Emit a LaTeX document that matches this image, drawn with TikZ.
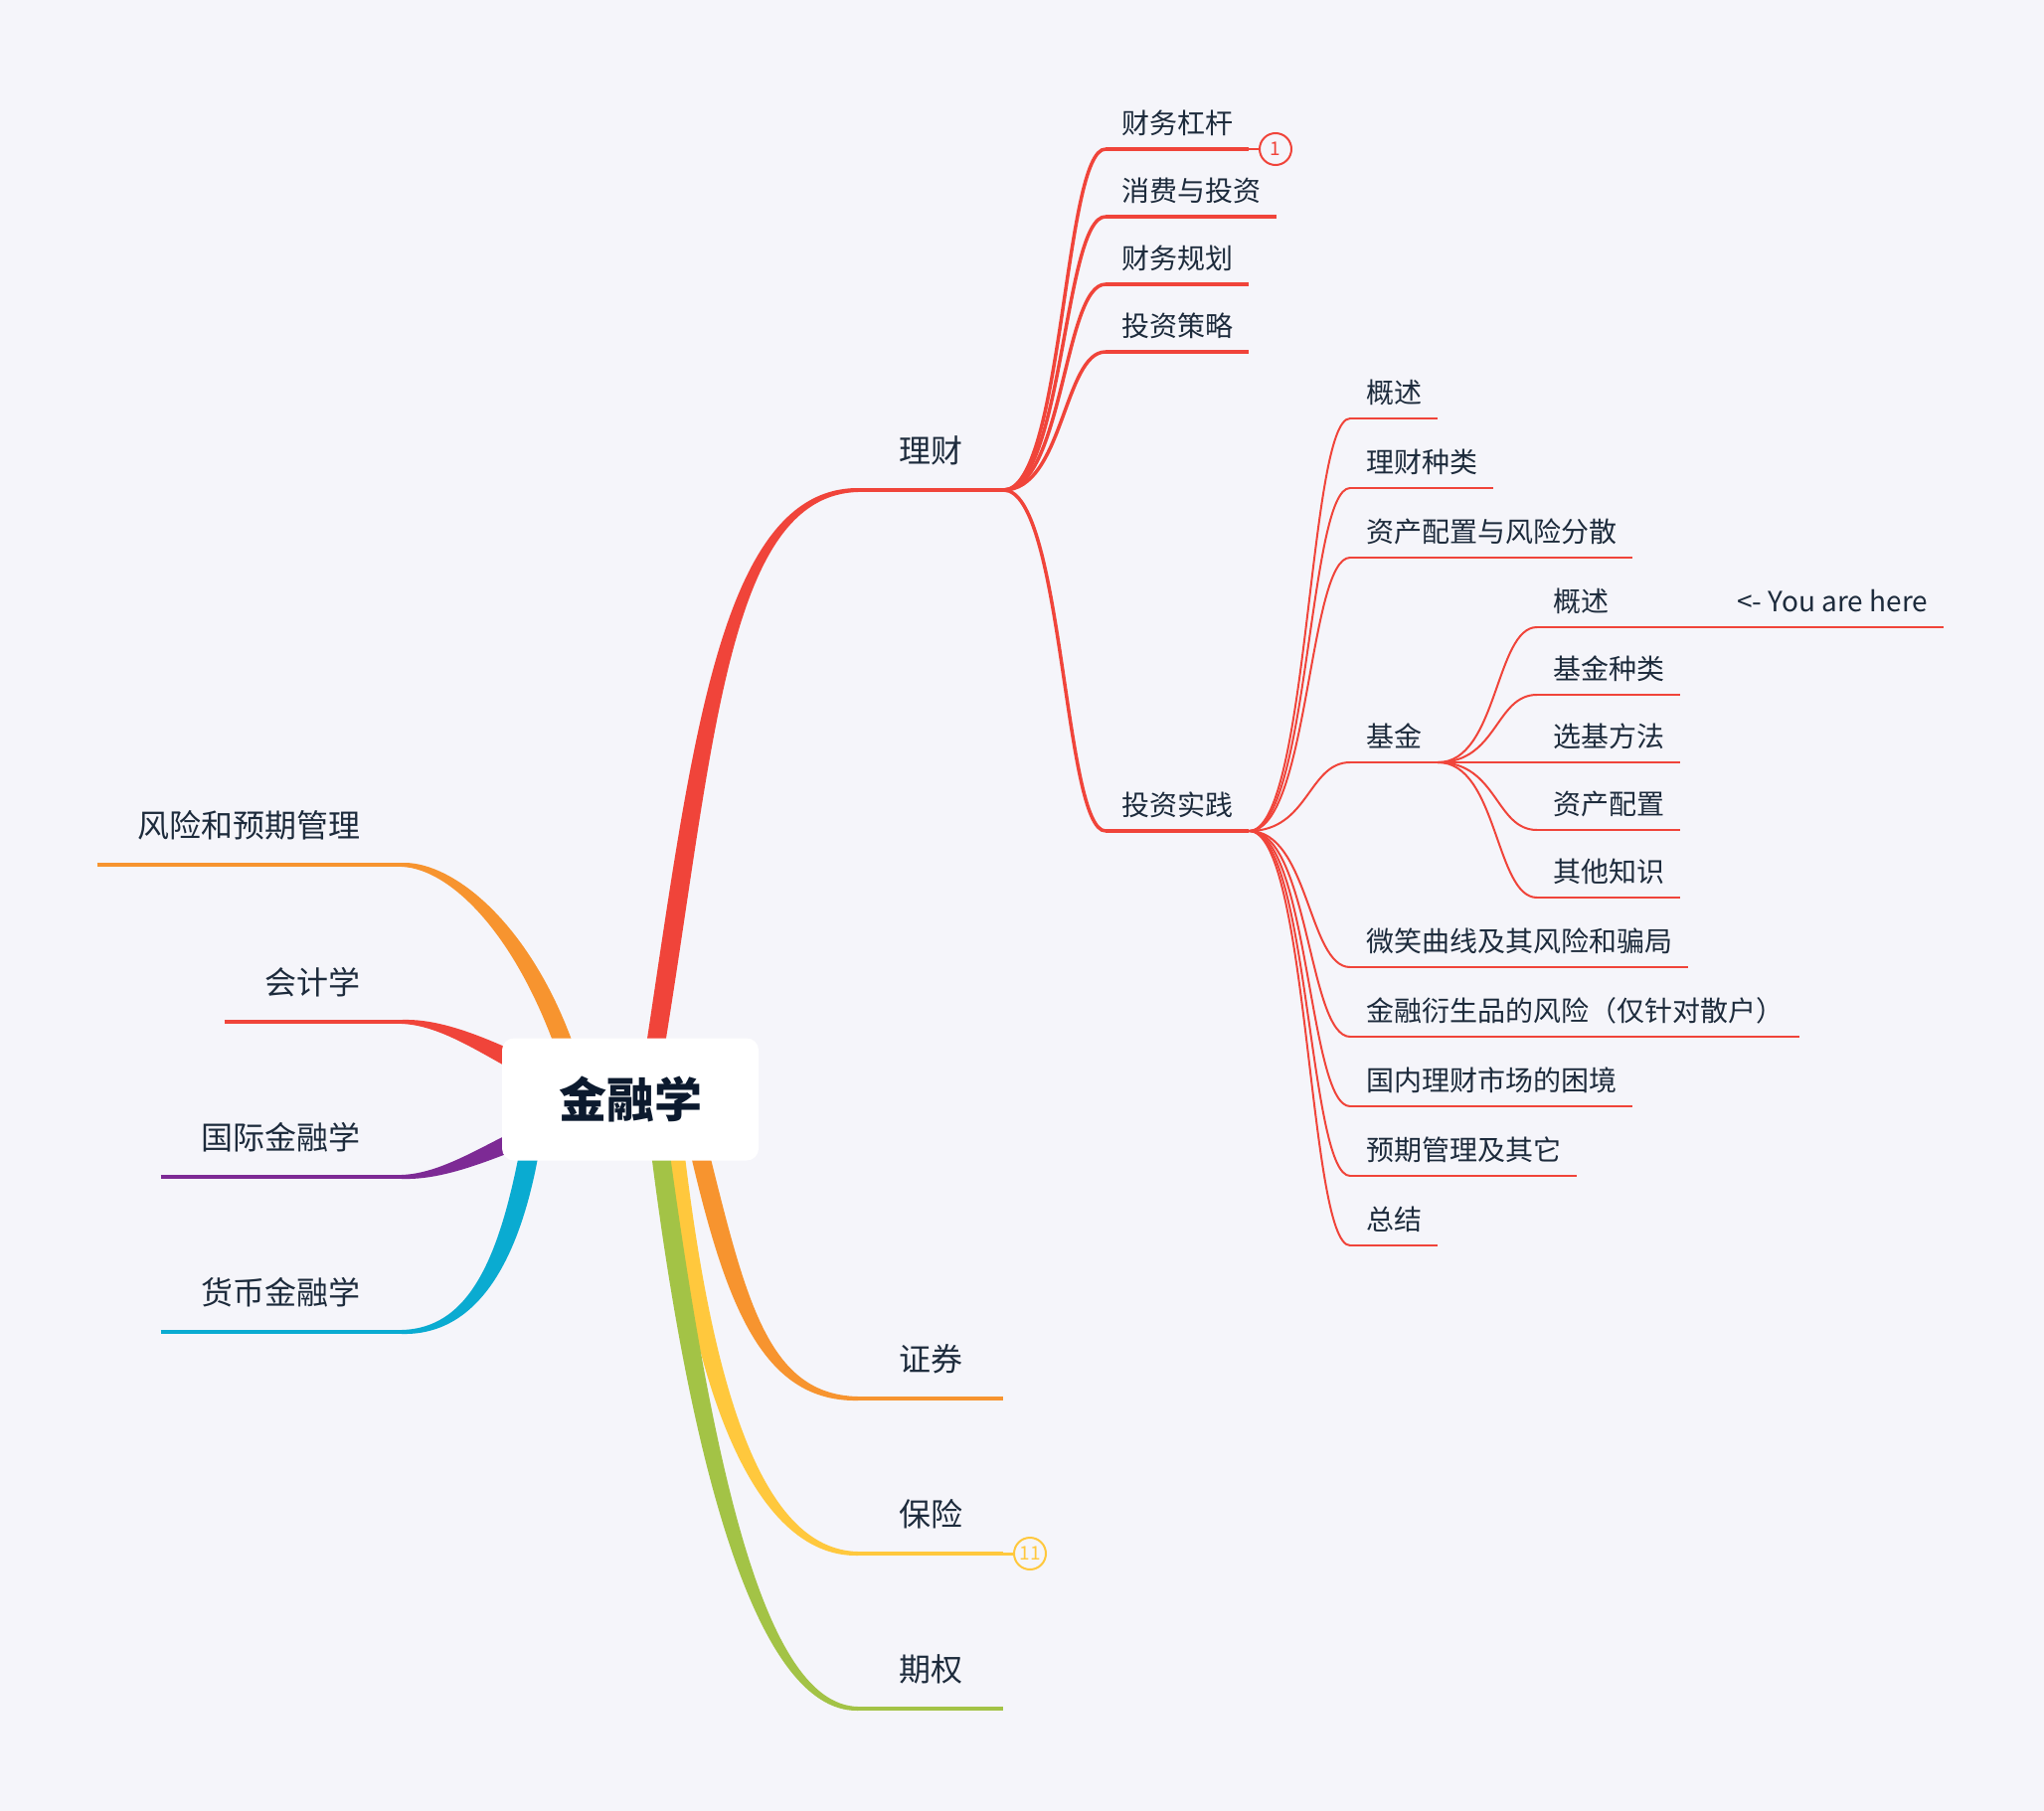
\documentclass[tikz,border=0pt]{standalone}
\usepackage{fontspec}
\setmainfont{Noto Sans CJK SC}
\usetikzlibrary{calc}
\definecolor{bgc}{RGB}{245,245,250}
\definecolor{txt}{RGB}{29,43,60}
\definecolor{roottxt}{RGB}{12,26,46}
\definecolor{cred}{RGB}{240,68,58}
\definecolor{corange}{RGB}{247,148,47}
\definecolor{cyellow}{RGB}{255,200,61}
\definecolor{cgreen}{RGB}{163,195,70}
\definecolor{cpurple}{RGB}{125,42,149}
\definecolor{ccyan}{RGB}{10,171,209}
\pgfdeclarelayer{back}
\pgfsetlayers{back,main}
% color, start, c1, c2, end, half-vectors at start, c1, c2, end
\newcommand\mybranch[9]{%
  \fill[#1] ($(#2)+(#6)$) .. controls ($(#3)+(#7)$) and ($(#4)+(#8)$) .. ($(#5)+(#9)$)
    -- ($(#5)-(#9)$) .. controls ($(#4)-(#8)$) and ($(#3)-(#7)$) .. ($(#2)-(#6)$) -- cycle;}
\tikzset{
  rootbox/.style={rectangle, rounded corners=12pt, fill=white, minimum width=258pt, minimum height=123pt,
    font=\fontsize{48}{56}\selectfont\bfseries, text=roottxt, inner sep=0pt},
  tone/.style={font=\fontsize{32}{36}\selectfont, text=txt, inner xsep=41pt, inner ysep=27pt,
    text height=26pt, text depth=0pt},
  ttwo/.style={font=\fontsize{28}{32}\selectfont, text=txt, inner xsep=16pt, inner ysep=15pt,
    text height=23pt, text depth=0pt},
  tthree/.style={ttwo, inner ysep=15pt},
  uone/.style={line width=4pt, line cap=butt},
  utwo/.style={line width=3.5pt, line cap=butt},
  uthree/.style={line width=2pt, line cap=butt},
  ctwo/.style={cred, line width=3.5pt},
  cthree/.style={cred, line width=2pt},
  badge/.style={circle, draw, line width=2pt, fill=bgc, minimum size=32pt, inner sep=0pt,
    font=\fontsize{19}{20}\selectfont},
}
\begin{document}
\begin{tikzpicture}[x=1pt,y=-1pt]
\begin{pgfonlayer}{back}
\fill[bgc] (0,0) rectangle (2056,1822);
\end{pgfonlayer}
\useasboundingbox (0,0) rectangle (2056,1822);

% root
\node[rootbox] (root) at (634,1106) {金融学};

% level 1 right
\node[tone, anchor=south west] (lc) at (863,493) {理财};
\node[tone, anchor=south west] (zq) at (863,1407) {证券};
\node[tone, anchor=south west] (bx) at (863,1563) {保险};
\node[tone, anchor=south west] (qq) at (863,1719) {期权};
% level 1 left
\node[tone, anchor=south east] (fx) at (404,870) {风险和预期管理};
\node[tone, anchor=south east] (kj) at (404,1028) {会计学};
\node[tone, anchor=south east] (gj) at (404,1184) {国际金融学};
\node[tone, anchor=south east] (hb) at (404,1340) {货币金融学};

% level 2
\node[ttwo, anchor=south west] (a1) at (1112,150) {财务杠杆};
\node[ttwo, anchor=south west] (a2) at (1112,218) {消费与投资};
\node[ttwo, anchor=south west] (a3) at (1112,286) {财务规划};
\node[ttwo, anchor=south west] (a4) at (1112,354) {投资策略};
\node[ttwo, anchor=south west] (a5) at (1112,836) {投资实践};

% level 3
\node[tthree, anchor=south west] (b1) at (1358,421) {概述};
\node[tthree, anchor=south west] (b2) at (1358,491) {理财种类};
\node[tthree, anchor=south west] (b3) at (1358,561) {资产配置与风险分散};
\node[tthree, anchor=south west] (b4) at (1358,767) {基金};
\node[tthree, anchor=south west] (b5) at (1358,973) {微笑曲线及其风险和骗局};
\node[tthree, anchor=south west] (b6) at (1358,1043) {金融衍生品的风险（仅针对散户）};
\node[tthree, anchor=south west] (b7) at (1358,1113) {国内理财市场的困境};
\node[tthree, anchor=south west] (b8) at (1358,1183) {预期管理及其它};
\node[tthree, anchor=south west] (b9) at (1358,1253) {总结};

% level 4
\node[tthree, anchor=south west] (c1) at (1546,631) {\makebox[377pt][l]{概述\hfill<- You are here}};
\node[tthree, anchor=south west] (c2) at (1546,699) {基金种类};
\node[tthree, anchor=south west] (c3) at (1546,767) {选基方法};
\node[tthree, anchor=south west] (c4) at (1546,835) {资产配置};
\node[tthree, anchor=south west] (c5) at (1546,903) {其他知识};

% badges
\node[badge, draw=cred, text=cred] (bd1) at (1283,150) {1};
\node[badge, draw=cyellow, text=cyellow] (bd2) at (1036,1563) {11};

% underlines
\draw[uone, cred] (lc.south west) -- (lc.south east);
\draw[uone, corange] (zq.south west) -- (zq.south east);
\draw[uone, cyellow] (bx.south west) -- (bx.south east);
\draw[uone, cgreen] (qq.south west) -- (qq.south east);
\draw[uone, corange] (fx.south west) -- (fx.south east);
\draw[uone, cred] (kj.south west) -- (kj.south east);
\draw[uone, cpurple] (gj.south west) -- (gj.south east);
\draw[uone, ccyan] (hb.south west) -- (hb.south east);
\foreach \n in {a1,a2,a3,a4,a5}{\draw[utwo, cred] (\n.south west) -- (\n.south east);}
\foreach \n in {b1,b2,b3,b4,b5,b6,b7,b8,b9,c1,c2,c3,c4,c5}{\draw[uthree, cred] (\n.south west) -- (\n.south east);}
\draw[cred, line width=2pt] (a1.south east) -- (bd1.west);
\draw[cyellow, line width=3pt] (bx.south east) -- (bd2.west);

\begin{pgfonlayer}{back}
% thick main branches
\mybranch{cred}{650,1110}{705,780}{720,495}{lc.south west}{9,0}{12,0}{4,4}{0,2}
\mybranch{corange}{692,1110}{735,1290}{760,1407}{zq.south west}{9,0}{12,0}{4,-4}{0,-2}
\mybranch{cyellow}{674,1110}{700,1390}{760,1563}{bx.south west}{9,0}{12,0}{4,-4}{0,-2}
\mybranch{cgreen}{658,1110}{700,1450}{760,1719}{qq.south west}{9,0}{12,0}{4,-4}{0,-2}
\mybranch{corange}{585,1110}{545,950}{460,870}{fx.south east}{9,0}{12,0}{4,-4}{0,-2}
\mybranch{cred}{590,1100}{520,1075}{460,1028}{kj.south east}{3,-9}{4,-12}{1,-4}{0,-2}
\mybranch{cpurple}{590,1120}{520,1140}{460,1184}{gj.south east}{-5,-8}{-6,-11}{-1,-4}{0,-2}
\mybranch{ccyan}{540,1110}{520,1260}{480,1340}{hb.south east}{-9,-1}{-12,-1}{-4,-4}{0,-2}
% level 2 connectors
\foreach \n in {a1,a2,a3,a4,a5}{\draw[ctwo] (lc.south east) .. controls +(60,0) and +(-42,0) .. (\n.south west);}
% level 3 connectors
\foreach \n in {b1,b2,b3,b4,b5,b6,b7,b8,b9}{\draw[cthree] (a5.south east) .. controls +(60,0) and +(-42,0) .. (\n.south west);}
% level 4 connectors
\foreach \n in {c1,c2,c3,c4,c5}{\draw[cthree] (b4.south east) .. controls +(60,0) and +(-42,0) .. (\n.south west);}
\end{pgfonlayer}
\end{tikzpicture}
\end{document}
